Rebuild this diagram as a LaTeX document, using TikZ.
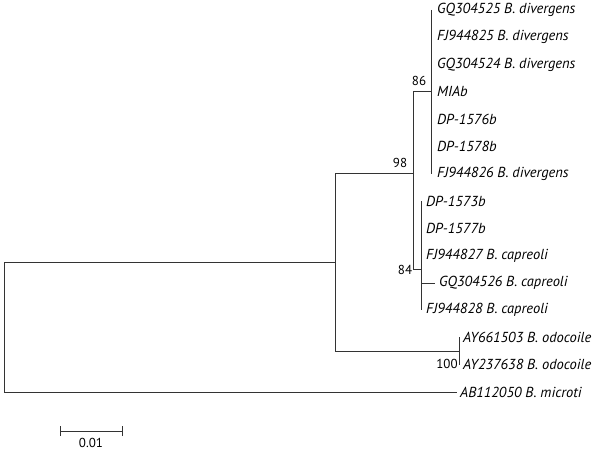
\documentclass[tikz,border=0pt]{standalone}
\usepackage{fontspec}
\setmainfont{PT Sans}
\begin{document}
\begin{tikzpicture}[x=1pt,y=-1pt,
  br/.style={draw=black!80,line width=0.8pt},
  leaf/.style={anchor=west,inner sep=0pt,font=\itshape\fontsize{14.5}{16}\selectfont},
  boot/.style={inner sep=0pt,font=\fontsize{13}{15}\selectfont}]
\useasboundingbox (0,0) rectangle (600,452);
\pgfmathsetmacro{\dy}{27.29}
% leaves
\node[leaf] (l0) at (437,{10+0*\dy}) {GQ304525 B. divergens};
\node[leaf] (l1) at (437,{10+1*\dy}) {FJ944825 B. divergens};
\node[leaf] (l2) at (437,{10+2*\dy}) {GQ304524 B. divergens};
\node[leaf] (l3) at (437,{10+3*\dy}) {MIAb};
\node[leaf] (l4) at (437,{10+4*\dy}) {DP-1576b};
\node[leaf] (l5) at (437,{10+5*\dy}) {DP-1578b};
\node[leaf] (l6) at (437,{10+6*\dy}) {FJ944826 B. divergens};
\node[leaf] (l7) at (426,{10+7*\dy}) {DP-1573b};
\node[leaf] (l8) at (426,{10+8*\dy}) {DP-1577b};
\node[leaf] (l9) at (426,{10+9*\dy}) {FJ944827 B. capreoli};
\node[leaf] (l10) at (439,{10+10*\dy}) {GQ304526 B. capreoli};
\node[leaf] (l11) at (426,{10+11*\dy}) {FJ944828 B. capreoli};
\node[leaf] (l12) at (463,{10+12*\dy}) {AY661503 B. odocoile};
\node[leaf] (l13) at (463,{10+13*\dy}) {AY237638 B. odocoile};
\node[leaf] (l14) at (460,{10+14*\dy}) {AB112050 B. microti};
% internal nodes
\coordinate (n86) at (431,{10+3*\dy});
\coordinate (n84) at (421,{10+9.5*\dy});
\coordinate (n98) at (413,{10+6*\dy});
\coordinate (nod) at (459,{10+12.5*\dy});
\coordinate (nA) at (335,262);
\coordinate (root) at (4,327);
\coordinate (e14) at (457,{10+14*\dy});
\coordinate (e10) at (435,{10+10*\dy});
% branches
\draw[br] (n86 |- l0.west) -- (n86 |- l6.west);
\draw[br] (n84 |- l7.west) -- (n84 |- l11.west);
\draw[br] (n84 |- l10.west) -- (e10);
\draw[br] (n98 |- n86) -- (n86);
\draw[br] (n98 |- n86) -- (n98 |- n84) -- (n84);
\draw[br] (nA |- n98) -- (n98);
\draw[br] (nA |- n98) -- (nA |- nod) -- (nod);
\draw[br] (nod |- l12.west) -- (nod |- l13.west);
\draw[br] (root |- nA) -- (nA);
\draw[br] (root |- nA) -- (root |- e14) -- (e14);
% bootstrap values
\node[boot] (b98) at (400,163) {98};
\node[boot] (b86) at (419,81) {86};
\node[boot] (b84) at (405,270) {84};
\node[boot] (b100) at (447,364) {100};
% scale bar
\coordinate (s1) at (60,431);
\coordinate (s2) at (122,431);
\draw[br] (s1) -- (s2);
\draw[br] ([yshift=-5]s1) -- ([yshift=5]s1);
\draw[br] ([yshift=-5]s2) -- ([yshift=5]s2);
\node[boot] (sl) at (91,443) {0.01};
\end{tikzpicture}
\end{document}
